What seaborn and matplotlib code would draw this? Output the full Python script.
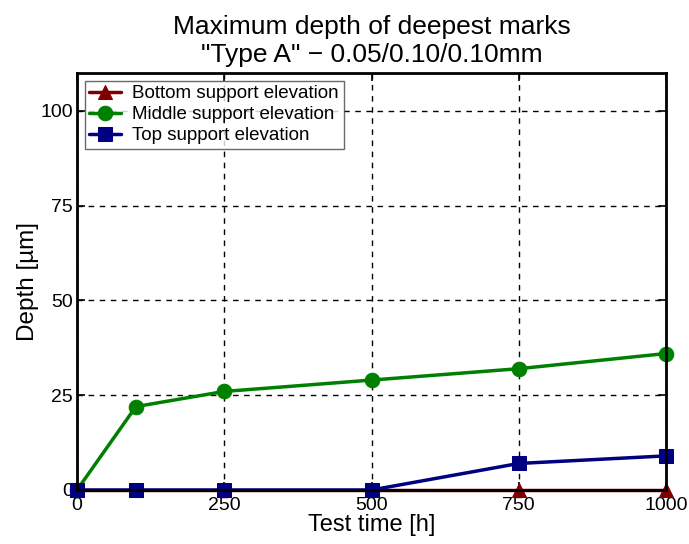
import matplotlib
matplotlib.use("Agg")
import matplotlib.pyplot as plt
import seaborn as sns
import pandas as pd

test_time = [0, 100, 250, 500, 750, 1000]
bottom_depth = [0, 0, 0, 0, 0, 0]
middle_depth = [0, 22, 26, 29, 32, 36]
top_depth = [0, 0, 0, 0, 7, 9]

series_names = ["Bottom support elevation", "Middle support elevation", "Top support elevation"]
series_colors = ["#800000", "#008000", "#000080"]
series_markers = ["^", "o", "s"]

sns.set_theme(style="ticks")
plt.rcParams["font.family"] = ["Liberation Sans", "DejaVu Sans"]
plt.rcParams["text.color"] = "black"
plt.rcParams["axes.labelcolor"] = "black"

df = pd.concat([
    pd.DataFrame({"time": test_time, "depth": vals, "series": name})
    for name, vals in zip(series_names, [bottom_depth, middle_depth, top_depth])
])

fig = plt.figure(figsize=(6.89, 5.44), dpi=100)
ax = fig.add_axes([77 / 689, 1 - 490 / 544, (666 - 77) / 689, (490 - 73) / 544])

for name, color, marker in zip(series_names, series_colors, series_markers):
    sns.lineplot(data=df[df["series"] == name], x="time", y="depth", ax=ax,
                 color=color, marker=marker, markersize=10.5, linewidth=2.5,
                 markeredgecolor=color, label=name, clip_on=False, zorder=3)

ax.set_xlim(0, 1000)
ax.set_ylim(0, 110)
ax.set_xticks([0, 250, 500, 750, 1000])
ax.set_yticks([0, 25, 50, 75, 100])
ax.grid(True, color="black", linestyle=(0, (4, 4)), linewidth=1)
ax.tick_params(direction="in", top=True, right=True, length=6, width=1.2,
               labelsize=14, colors="black")
ax.tick_params(axis="x", pad=5)
ax.tick_params(axis="y", pad=3)
for sp in ax.spines.values():
    sp.set_color("black")
    sp.set_linewidth(2)
    sp.set_zorder(4)

ax.set_xlabel("Test time [h]", fontsize=17, labelpad=0)
ax.set_ylabel("Depth [µm]", fontsize=17.5, labelpad=1)
ax.set_title("Maximum depth of deepest marks\n\"Type A\" \u2212 0.05/0.10/0.10mm",
             fontsize=19, pad=8, linespacing=1.2)

leg = ax.legend(loc="upper left", fontsize=13.5, frameon=True, fancybox=False,
                borderaxespad=0.4, handlelength=1.7, handletextpad=0.6,
                borderpad=0.25, labelspacing=0.2)
leg.get_frame().set_edgecolor("#444444")
leg.get_frame().set_linewidth(1)

fig.savefig("out.png", dpi=100, facecolor="white")
